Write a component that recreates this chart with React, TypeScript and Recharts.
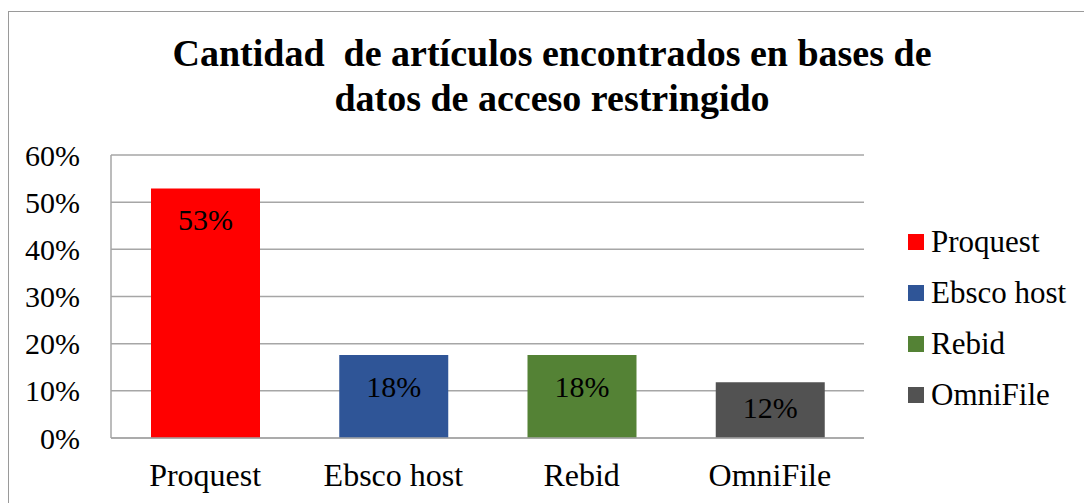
import React from 'react';
import { BarChart, Bar, XAxis, YAxis, CartesianGrid, Cell } from 'recharts';

const categories = ['Proquest', 'Ebsco host', 'Rebid', 'OmniFile'];
const values = [0.529, 0.176, 0.176, 0.118];
const colors = ['#FF0000', '#2F5597', '#548235', '#525252'];
const yTicks = [0, 0.1, 0.2, 0.3, 0.4, 0.5, 0.6];

const data = categories.map((name, i) => ({ name, value: values[i] }));

const FONT = '"Liberation Serif", "Times New Roman", serif';
const pct = (v: number) => `${Math.round(v * 100)}%`;

const renderLabel = (props: any) => {
  const { x, y, width, height, value } = props;
  const baseline = Math.min(y + 42, y + height / 2 + 8);
  return (
    <text
      x={x + width / 2}
      y={baseline}
      textAnchor="middle"
      fontFamily={FONT}
      fontSize={30}
      fill="#000"
    >
      {pct(value)}
    </text>
  );
};

export default function App() {
  return (
    <div
      style={{
        position: 'absolute',
        left: 0,
        top: 0,
        width: 1084,
        height: 503,
        overflow: 'hidden',
        background: '#fff',
        fontFamily: FONT,
      }}
    >
      <div
        style={{
          position: 'absolute',
          left: 8,
          top: 11,
          width: 1088,
          height: 510,
          border: '1px solid #9a9a9a',
        }}
      />
      <div
        style={{
          position: 'absolute',
          left: 8,
          top: 31,
          width: 1088,
          textAlign: 'center',
          fontWeight: 'bold',
          fontSize: 38,
          lineHeight: '45px',
          whiteSpace: 'pre',
          color: '#000',
        }}
      >
        {'Cantidad  de artículos encontrados en bases de\ndatos de acceso restringido'}
      </div>
      <div style={{ position: 'absolute', left: 0, top: 0 }}>
        <BarChart
          width={1084}
          height={503}
          data={data}
          margin={{ top: 155, right: 220, bottom: 0, left: 0 }}
        >
          <CartesianGrid vertical={false} stroke="#a6a6a6" strokeWidth={1.5} />
          <XAxis
            dataKey="name"
            height={65}
            axisLine={{ stroke: '#a6a6a6', strokeWidth: 1.5 }}
            tickLine={false}
            tickSize={0}
            tickMargin={25}
            interval={0}
            tick={{ fill: '#000', fontSize: 32, fontFamily: FONT }}
          />
          <YAxis
            width={111}
            domain={[0, 0.6]}
            ticks={yTicks}
            tickFormatter={pct}
            axisLine={{ stroke: '#a6a6a6', strokeWidth: 1.5 }}
            tickLine={false}
            tickSize={0}
            tickMargin={31}
            tick={{ fill: '#000', fontSize: 30, fontFamily: FONT }}
          />
          <Bar dataKey="value" barSize={109} isAnimationActive={false} label={renderLabel}>
            {data.map((d, i) => (
              <Cell key={d.name} fill={colors[i]} />
            ))}
          </Bar>
        </BarChart>
      </div>
      <div style={{ position: 'absolute', left: 908, top: 216 }}>
        {categories.map((name, i) => (
          <div
            key={name}
            style={{ display: 'flex', alignItems: 'center', height: 51 }}
          >
            <span
              style={{ width: 16, height: 16, background: colors[i], marginRight: 7 }}
            />
            <span style={{ fontSize: 31, color: '#000' }}>{name}</span>
          </div>
        ))}
      </div>
    </div>
  );
}
